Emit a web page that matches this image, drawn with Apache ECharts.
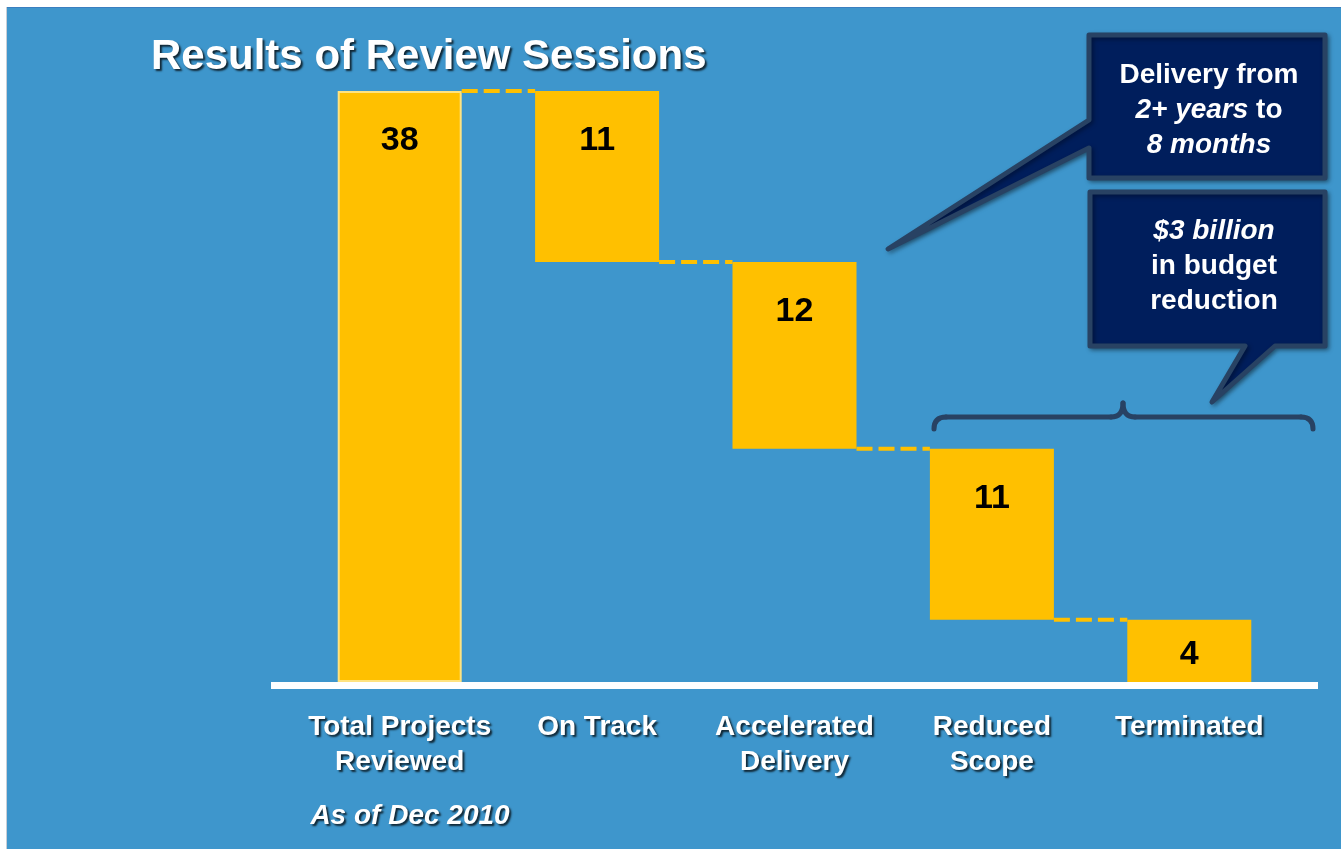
<!DOCTYPE html>
<html>
<head>
<meta charset="utf-8">
<script src="https://cdn.jsdelivr.net/npm/echarts@6/dist/echarts.min.js"></script>
<style>
html,body{margin:0;padding:0;background:#fff;}
#chart{width:1341px;height:849px;}
</style>
</head>
<body>
<div id="chart"></div>
<script>
// ---- data ----
const titleText = 'Results of Review Sessions';
const categories = ['Total Projects\nReviewed', 'On Track', 'Accelerated\nDelivery', 'Reduced\nScope', 'Terminated'];
const values = [38, 11, 12, 11, 4];
const noteText = 'As of Dec 2010';
const callout1Lines = ['Delivery from', '{i|2+ years} to', '{i|8 months}'];
const callout2Lines = ['{i|$3 billion}', 'in budget', 'reduction'];

// ---- derived waterfall layout (from data) ----
const total = values[0];
const bases = [0];
let running = total;
for (let i = 1; i < values.length; i++) { running -= values[i]; bases.push(running); }
const connectorData = [];
for (let i = 0; i < values.length - 1; i++) {
  connectorData.push([i, bases[i + 1] + values[i + 1]]);
}

const FONT = '"Liberation Sans", Arial, sans-serif';
const BAR_W = 124;
const BAR_COLOR = '#FFC000';
const BG = '#3E96CC';
const NAVY = '#001E5C';
const NAVY_EDGE = '#284263';
const shadow = { textShadowColor: 'rgba(0,0,0,0.75)', textShadowBlur: 2, textShadowOffsetX: 2, textShadowOffsetY: 2 };
const braceStyle = { fill: 'none', stroke: NAVY_EDGE, lineWidth: 5, lineCap: 'round' };

const chart = echarts.init(document.getElementById('chart'), null, { renderer: 'canvas' });

const option = {
  backgroundColor: BG,
  animation: false,
  title: {
    text: titleText,
    left: 146, top: 31,
    textStyle: Object.assign({ color: '#fff', fontSize: 42, fontWeight: 'bold', fontFamily: FONT }, shadow)
  },
  grid: { left: 301, right: 53, top: 91, bottom: 167 },
  xAxis: {
    type: 'category',
    data: categories,
    axisLine: { show: false },
    axisTick: { show: false },
    axisLabel: Object.assign({
      color: '#fff', fontSize: 28, fontWeight: 'bold', fontFamily: FONT,
      lineHeight: 35, margin: 28, interval: 0, verticalAlign: 'top'
    }, shadow)
  },
  yAxis: { type: 'value', min: 0, max: total, show: false, splitLine: { show: false } },
  series: [
    {
      type: 'bar', stack: 'w', barWidth: BAR_W,
      itemStyle: { color: 'transparent' },
      data: bases, silent: true, z: 1
    },
    {
      type: 'bar', stack: 'w', barWidth: BAR_W,
      itemStyle: { color: BAR_COLOR },
      label: {
        show: true, position: 'insideTop', distance: 33,
        color: '#000', fontSize: 34, fontWeight: 'bold', fontFamily: FONT
      },
      data: values.map((v, i) => {
        const d = { value: v };
        if (i === 0) d.itemStyle = { borderColor: '#FFE37F', borderWidth: 2 };
        if (v < 6) d.label = { distance: 18 };
        return d;
      }),
      z: 2
    },
    {
      type: 'custom',
      data: connectorData,
      z: 3,
      renderItem: function (params, api) {
        const idx = api.value(0);
        const level = api.value(1);
        const p = api.coord([idx, level]);
        const band = api.size([1, 0])[0];
        const x1 = p[0] + BAR_W / 2;
        const x2 = p[0] + band - BAR_W / 2;
        return {
          type: 'line',
          shape: { x1: x1, y1: p[1], x2: x2, y2: p[1] },
          style: { stroke: BAR_COLOR, lineWidth: 4, lineDash: [16, 6] }
        };
      }
    }
  ],
  graphic: [
    { type: 'rect', z: 0, shape: { x: 0, y: 0, width: 1341, height: 7 }, style: { fill: '#fff' } },
    { type: 'rect', z: 0, shape: { x: 0, y: 7, width: 1341, height: 1 }, style: { fill: '#3A7FC0' } },
    { type: 'rect', z: 0, shape: { x: 0, y: 0, width: 6, height: 849 }, style: { fill: '#fff' } },
    { type: 'rect', z: 0, shape: { x: 6, y: 7, width: 1, height: 842 }, style: { fill: '#C9CED6' } },
    // baseline
    { type: 'rect', z: 10, shape: { x: 271, y: 682, width: 1047, height: 7 }, style: { fill: '#fff' } },
    // note
    {
      type: 'text', z: 10, x: 410, y: 816,
      style: Object.assign({
        text: noteText, fill: '#fff', fontSize: 28, fontWeight: 'bold', fontStyle: 'italic',
        fontFamily: FONT, align: 'center', verticalAlign: 'middle'
      }, shadow)
    },
    // brace
    { type: 'bezierCurve', z: 10, shape: { x1: 934, y1: 429, cpx1: 934, cpy1: 417, x2: 946, y2: 417 }, style: braceStyle },
    { type: 'line', z: 10, shape: { x1: 946, y1: 417, x2: 1111, y2: 417 }, style: braceStyle },
    { type: 'bezierCurve', z: 10, shape: { x1: 1111, y1: 417, cpx1: 1123, cpy1: 417, x2: 1123, y2: 403 }, style: braceStyle },
    { type: 'bezierCurve', z: 10, shape: { x1: 1123, y1: 403, cpx1: 1123, cpy1: 417, x2: 1135, y2: 417 }, style: braceStyle },
    { type: 'line', z: 10, shape: { x1: 1135, y1: 417, x2: 1301, y2: 417 }, style: braceStyle },
    { type: 'bezierCurve', z: 10, shape: { x1: 1301, y1: 417, cpx1: 1313, cpy1: 417, x2: 1313, y2: 429 }, style: braceStyle },
    // callout 1
    {
      type: 'polygon', z: 10,
      shape: { points: [[1089, 35], [1325, 35], [1325, 178], [1089, 178], [1089, 148], [888, 249], [1089, 120]] },
      style: { fill: NAVY, stroke: NAVY_EDGE, lineWidth: 5, lineJoin: 'round', shadowColor: 'rgba(0,0,0,0.35)', shadowBlur: 4, shadowOffsetX: 2, shadowOffsetY: 2 }
    },
    {
      type: 'text', z: 11, x: 1209, y: 110,
      style: {
        text: callout1Lines.join('\n'), fill: '#fff', fontSize: 28, fontWeight: 'bold', fontFamily: FONT,
        lineHeight: 35, align: 'center', verticalAlign: 'middle',
        rich: { i: { fontStyle: 'italic', fontWeight: 'bold', fontSize: 28, fontFamily: FONT, fill: '#fff', lineHeight: 35 } }
      }
    },
    // callout 2
    {
      type: 'polygon', z: 10,
      shape: { points: [[1090, 192], [1325, 192], [1325, 346], [1275, 346], [1212, 402], [1245, 346], [1090, 346]] },
      style: { fill: NAVY, stroke: NAVY_EDGE, lineWidth: 5, lineJoin: 'round', shadowColor: 'rgba(0,0,0,0.35)', shadowBlur: 4, shadowOffsetX: 2, shadowOffsetY: 2 }
    },
    {
      type: 'text', z: 11, x: 1214, y: 266,
      style: {
        text: callout2Lines.join('\n'), fill: '#fff', fontSize: 28, fontWeight: 'bold', fontFamily: FONT,
        lineHeight: 35, align: 'center', verticalAlign: 'middle',
        rich: { i: { fontStyle: 'italic', fontWeight: 'bold', fontSize: 28, fontFamily: FONT, fill: '#fff', lineHeight: 35 } }
      }
    }
  ]
};
chart.setOption(option);
</script>
</body>
</html>
